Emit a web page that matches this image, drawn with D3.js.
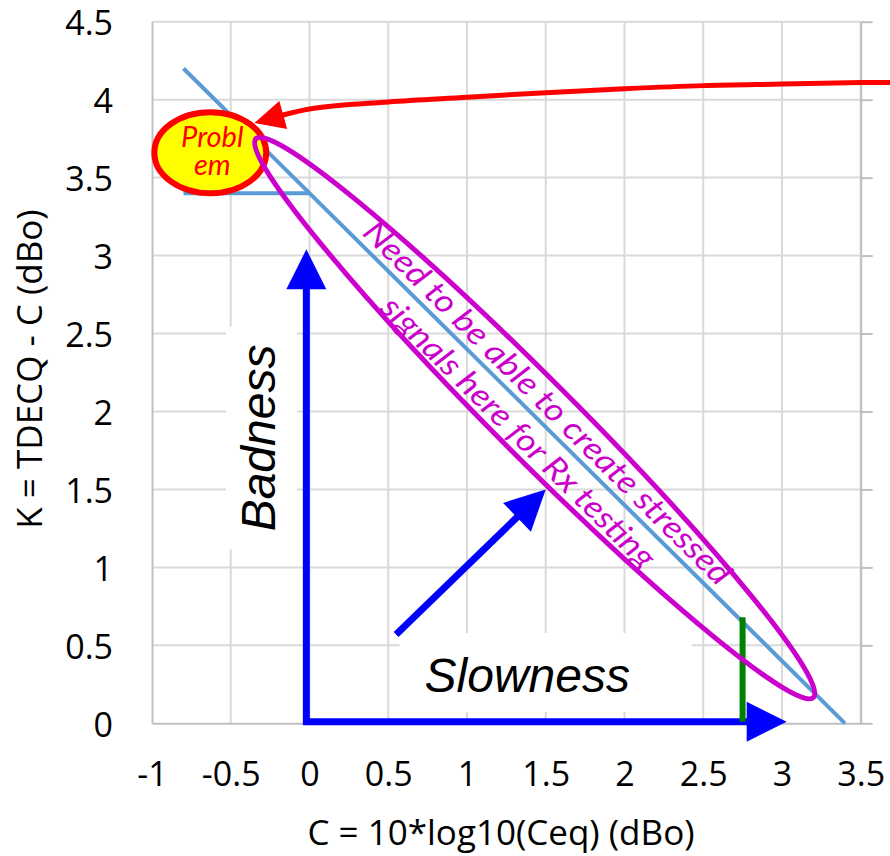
<!DOCTYPE html>
<html>
<head>
<meta charset="utf-8">
<script src="https://cdn.jsdelivr.net/npm/d3@7"></script>
<style>
  body { margin: 0; background: #fff; }
  svg { display: block; }
</style>
</head>
<body>
<div id="chart"></div>
<script>
// axis ticks
const xTicks = [-1, -0.5, 0, 0.5, 1, 1.5, 2, 2.5, 3, 3.5];
const yTicks = [0, 0.5, 1, 1.5, 2, 2.5, 3, 3.5, 4, 4.5];

// K limit: flat part at 3.4 and the slope -1 line
const flatC = [-0.8, 0];
const flatK = [3.4, 3.4];
const slopeC = [-0.8, 3.4];
const slopeK = [4.2, 0];

// red arrow, from the far right end to the tip at the problem bubble
const redC = [3.7, 3.5, 3, 2.5, 2, 1.5, 1, 0.5, 0, -0.35];
const redK = [4.11, 4.11, 4.10, 4.09, 4.07, 4.045, 4.015, 3.985, 3.94, 3.85];

// green marker
const greenC = [2.75, 2.75];
const greenK = [0.01, 0.68];

// blue arrows (start, end)
const badnessC = [-0.02, -0.02];
const badnessK = [-0.01, 3.04];
const slownessC = [-0.04, 3.03];
const slownessK = [0.01, 0.01];
const pointerC = [0.55, 1.5];
const pointerK = [0.57, 1.5];

// "Problem" bubble: centre and radii in data units
const problemCenter = [-0.63, 3.66];
const problemRadii = [0.355, 0.26];
const problemLines = ['Probl', 'em'];

// magenta region: the two tips of the long axis, plus half width (in C units)
const regionTipC = [-0.34, 3.2];
const regionTipK = [3.75, 0.165];
const regionHalfWidth = 0.25;
const regionLines = ['Need to be able to create stressed', 'signals here for Rx testing'];
const regionLineC = [1.462, 1.279];
const regionLineK = [2.006, 1.817];

const width = 890;
const height = 856;

const svg = d3.select('#chart')
  .append('svg')
  .attr('width', width)
  .attr('height', height)
  .style('font-family', '"Open Sans", sans-serif');

const x = d3.scaleLinear().domain([-1, 3.5]).range([152, 860.7]);
const y = d3.scaleLinear().domain([0, 4.5]).range([723.3, 21.7]);

const g = svg.append('g');

// Gridlines
g.append('g')
  .selectAll('line')
  .data(xTicks.filter(d => d > -1))
  .join('line')
  .attr('x1', d => x(d)).attr('x2', d => x(d))
  .attr('y1', y(0)).attr('y2', y(4.5))
  .attr('stroke', '#d9d9d9')
  .attr('stroke-width', 2);

g.append('g')
  .selectAll('line')
  .data(yTicks.filter(d => d > 0))
  .join('line')
  .attr('x1', x(-1)).attr('x2', x(3.5))
  .attr('y1', d => y(d)).attr('y2', d => y(d))
  .attr('stroke', '#d9d9d9')
  .attr('stroke-width', 2);

// Axes
const xAxis = g.append('g')
  .attr('transform', `translate(0,${y(0)})`)
  .call(d3.axisBottom(x).tickValues(xTicks).tickSize(0).tickPadding(39).tickFormat(d => String(d)));

const yAxis = g.append('g')
  .attr('transform', `translate(${x(-1)},0)`)
  .call(d3.axisLeft(y).tickValues(yTicks).tickSize(0).tickPadding(39).tickFormat(d => String(d)));

const rAxis = g.append('g')
  .attr('transform', `translate(${x(3.5)},0)`)
  .call(d3.axisRight(y).tickValues(yTicks).tickSize(12).tickSizeOuter(0).tickFormat(''));

[xAxis, yAxis, rAxis].forEach(a => {
  a.select('.domain').attr('stroke', '#bfbfbf').attr('stroke-width', 2);
  a.selectAll('.tick line').attr('stroke', '#bfbfbf').attr('stroke-width', 2);
  a.selectAll('.tick text')
    .attr('fill', '#000')
    .style('font-size', '34px')
    .style('font-family', '"Open Sans", sans-serif');
});
yAxis.selectAll('.tick text').attr('dy', '0.39em');

// Axis titles
svg.append('text')
  .attr('x', 501)
  .attr('y', 845)
  .attr('text-anchor', 'middle')
  .style('font-size', '35px')
  .text('C = 10*log10(Ceq) (dBo)');

svg.append('text')
  .attr('transform', 'translate(42,369) rotate(-90)')
  .attr('text-anchor', 'middle')
  .style('font-size', '35px')
  .text('K = TDECQ - C (dBo)');

// White text boxes (cover the grid)
function textBox(parent, label, transform, pad) {
  const grp = parent.append('g').attr('transform', transform);
  const rect = grp.append('rect').attr('fill', '#fff');
  const t = grp.append('text')
    .attr('text-anchor', 'middle')
    .style('font-family', '"Liberation Sans", Arial, sans-serif')
    .style('font-style', 'italic')
    .style('font-size', '48px')
    .attr('fill', '#000')
    .text(label);
  const b = t.node().getBBox();
  rect.attr('x', b.x - pad[3])
    .attr('y', b.y - pad[0])
    .attr('width', b.width + pad[1] + pad[3])
    .attr('height', b.height + pad[0] + pad[2]);
  return grp;
}

textBox(g, 'Badness', `translate(275,${y(1.83)}) rotate(-90)`, [6, 18, 12, 18]);
textBox(g, 'Slowness', `translate(${x(1.383)},692)`, [16, 62, 10, 25]);

// Limit line
const line = d3.line().x(d => x(d[0])).y(d => y(d[1]));
const zip = (a, b) => a.map((v, i) => [v, b[i]]);

g.append('path')
  .attr('d', line(zip(flatC, flatK)))
  .attr('fill', 'none')
  .attr('stroke', '#5b9bd5')
  .attr('stroke-width', 4);

g.append('path')
  .attr('d', line(zip(slopeC, slopeK)))
  .attr('fill', 'none')
  .attr('stroke', '#5b9bd5')
  .attr('stroke-width', 4);

// Arrow helper: stroke stops short of the tip, a triangle covers the rest
function arrow(points, color, strokeW, headLen, headW, curve) {
  const gen = d3.line().x(d => x(d[0])).y(d => y(d[1])).curve(curve || d3.curveLinear);
  const path = g.append('path')
    .attr('d', gen(points))
    .attr('fill', 'none')
    .attr('stroke', color)
    .attr('stroke-width', strokeW);
  const node = path.node();
  const L = node.getTotalLength();
  path.attr('stroke-dasharray', `${L - headLen + 3} ${L}`);
  const tip = node.getPointAtLength(L);
  const back = node.getPointAtLength(L - headLen);
  const ang = Math.atan2(tip.y - back.y, tip.x - back.x);
  const bx = tip.x - headLen * Math.cos(ang);
  const by = tip.y - headLen * Math.sin(ang);
  const px = -Math.sin(ang) * headW / 2;
  const py = Math.cos(ang) * headW / 2;
  g.append('path')
    .attr('d', `M${tip.x},${tip.y}L${bx + px},${by + py}L${bx - px},${by - py}Z`)
    .attr('fill', color);
}

// Blue arrows
arrow(zip(badnessC, badnessK), '#0000ff', 7, 40, 40);
arrow(zip(slownessC, slownessK), '#0000ff', 7, 40, 40);
arrow(zip(pointerC, pointerK), '#0000ff', 7, 40, 40);

// Green marker
g.append('path')
  .attr('d', line(zip(greenC, greenK)))
  .attr('stroke', '#008000')
  .attr('stroke-width', 6);

// Problem bubble
const pcx = x(problemCenter[0]);
const pcy = y(problemCenter[1]);
g.append('ellipse')
  .attr('cx', pcx)
  .attr('cy', pcy)
  .attr('rx', x(problemCenter[0] + problemRadii[0]) - pcx)
  .attr('ry', pcy - y(problemCenter[1] + problemRadii[1]))
  .attr('fill', '#ffff00')
  .attr('stroke', '#ff0000')
  .attr('stroke-width', 6);

g.append('text')
  .attr('text-anchor', 'middle')
  .attr('fill', '#ff0000')
  .style('font-family', 'Lato, sans-serif')
  .style('font-style', 'italic')
  .style('font-size', '29px')
  .selectAll('tspan')
  .data(problemLines)
  .join('tspan')
  .attr('x', pcx + 2)
  .attr('y', (d, i) => pcy - 6 + i * 28)
  .text(d => d);

// Magenta region
const p1 = [x(regionTipC[0]), y(regionTipK[0])];
const p2 = [x(regionTipC[1]), y(regionTipK[1])];
const rcx = (p1[0] + p2[0]) / 2;
const rcy = (p1[1] + p2[1]) / 2;
const rAng = Math.atan2(p2[1] - p1[1], p2[0] - p1[0]) * 180 / Math.PI;
g.append('ellipse')
  .attr('transform', `translate(${rcx},${rcy}) rotate(${rAng})`)
  .attr('rx', Math.hypot(p2[0] - p1[0], p2[1] - p1[1]) / 2)
  .attr('ry', x(regionHalfWidth) - x(0))
  .attr('fill', 'none')
  .attr('stroke', '#cc00cc')
  .attr('stroke-width', 5);

// text angle follows the limit line
const tAng = Math.atan2(y(slopeK[1]) - y(slopeK[0]), x(slopeC[1]) - x(slopeC[0])) * 180 / Math.PI;
const regionLengths = [502, 371];
regionLines.forEach((txt, i) => {
  g.append('text')
    .attr('transform', `translate(${x(regionLineC[i])},${y(regionLineK[i])}) rotate(${tAng})`)
    .attr('text-anchor', 'middle')
    .attr('fill', '#cc00cc')
    .attr('textLength', regionLengths[i])
    .attr('lengthAdjust', 'spacingAndGlyphs')
    .style('font-family', 'Lato, sans-serif')
    .style('font-style', 'italic')
    .style('font-size', '32px')
    .text(txt);
});

// Red arrow to the problem bubble
arrow(zip(redC, redK), '#ff0000', 5, 30, 29, d3.curveCatmullRom.alpha(0.5));
</script>
</body>
</html>
